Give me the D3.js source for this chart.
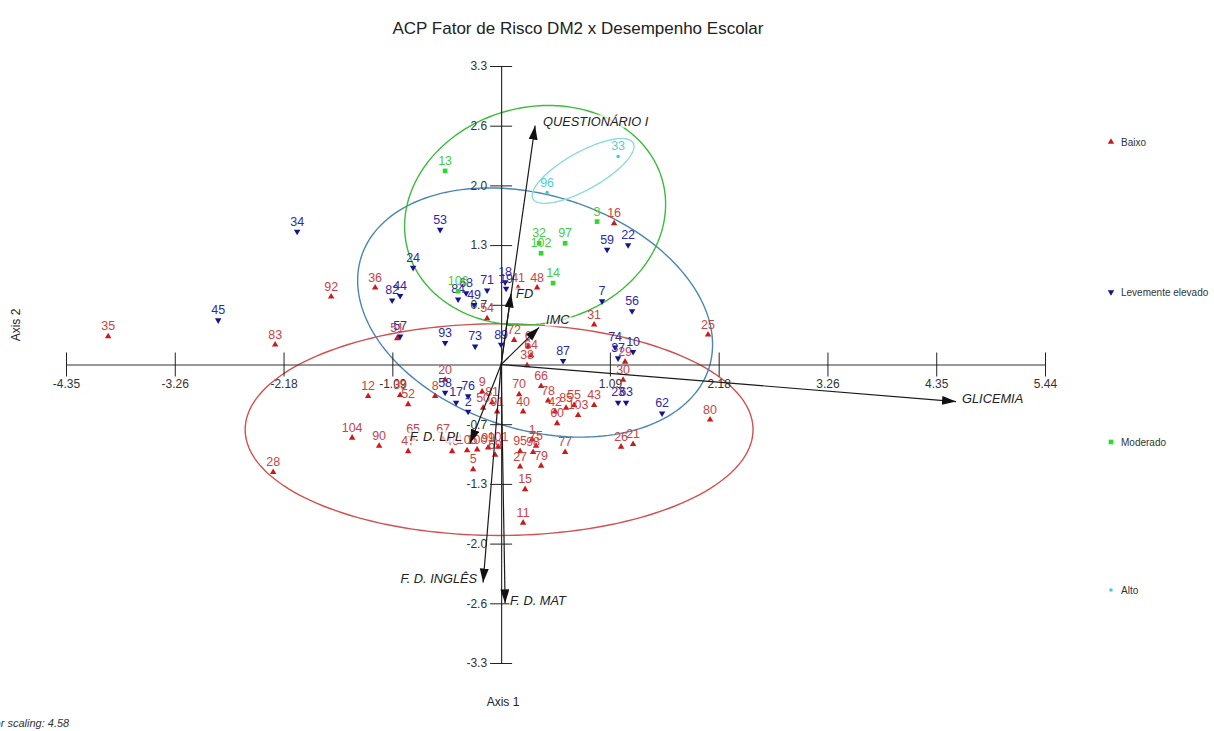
<!DOCTYPE html>
<html>
<head>
<meta charset="utf-8">
<script src="https://cdn.jsdelivr.net/npm/d3@7"></script>
<style>
  html, body { margin: 0; padding: 0; background: #fff; }
  svg { display: block; font-family: "Liberation Sans", Arial, sans-serif; }
</style>
</head>
<body>
<svg id="chart" width="1214" height="731"></svg>
<script>
// ---- scores on the first two principal components: [id, Axis 1, Axis 2] ----
const baixo = [
  [35,-3.93,0.31],[83,-2.26,0.22],[92,-1.70,0.75],[36,-1.26,0.85],[48,0.36,0.85],[41,0.17,0.85],
  [54,-0.14,0.51],[16,1.13,1.56],[31,0.93,0.44],[25,2.07,0.33],[72,0.13,0.27],[6,0.27,0.20],
  [64,0.30,0.10],[38,0.26,-0.01],[29,1.24,0.03],[30,1.22,-0.17],[43,0.93,-0.45],[85,0.65,-0.48],
  [55,0.73,-0.45],[103,0.77,-0.56],[66,0.40,-0.24],[78,0.47,-0.40],[42,0.54,-0.52],[60,0.56,-0.65],
  [70,0.18,-0.33],[40,0.22,-0.52],[1,0.31,-0.83],[75,0.35,-0.90],[95,0.19,-0.96],[98,0.32,-0.97],
  [27,0.19,-1.13],[79,0.40,-1.12],[15,0.24,-1.38],[11,0.22,-1.75],[5,-0.28,-1.16],[80,2.09,-0.61],
  [26,1.20,-0.91],[21,1.32,-0.88],[77,0.64,-0.97],[20,-0.56,-0.17],[12,-1.33,-0.35],[39,-1.01,-0.34],
  [52,-0.93,-0.44],[8,-0.66,-0.35],[9,-0.19,-0.30],[50,-0.18,-0.48],[81,-0.09,-0.42],[91,-0.04,-0.52],
  [51,-1.04,0.29],[104,-1.49,-0.81],[90,-1.22,-0.90],[28,-2.28,-1.19],[47,-0.93,-0.96],[65,-0.88,-0.82],
  [67,-0.58,-0.82],[46,-0.49,-0.96],[105,-0.34,-0.95],[100,-0.24,-0.94],[99,-0.13,-0.92],[69,-0.06,-1.00],
  [101,-0.03,-0.91]
];
const levementeElevado = [
  [34,-2.04,1.47],[45,-2.83,0.49],[53,-0.61,1.49],[24,-0.88,1.07],[44,-1.01,0.76],[82,-1.09,0.71],
  [68,-0.35,0.79],[84,-0.43,0.72],[49,-0.27,0.66],[71,-0.14,0.82],[18,0.04,0.91],[19,0.05,0.84],
  [59,1.06,1.27],[22,1.27,1.32],[7,1.01,0.70],[56,1.31,0.59],[87,0.62,0.04],[74,1.14,0.19],
  [10,1.32,0.14],[37,1.17,0.07],[23,1.17,-0.42],[63,1.25,-0.42],[62,1.61,-0.54],[93,-0.56,0.24],
  [73,-0.26,0.20],[89,0.00,0.22],[57,-1.01,0.31],[58,-0.56,-0.31],[17,-0.45,-0.42],[76,-0.33,-0.35],
  [2,-0.33,-0.52]
];
const moderado = [
  [13,-0.56,2.14],[106,-0.43,0.81],[32,0.38,1.34],[102,0.40,1.23],[97,0.64,1.34],[3,0.96,1.58],[14,0.52,0.90]
];
const alto = [
  [96,0.46,1.90],[33,1.17,2.30]
];

// group names, in legend order
const groupNames = ["Baixo", "Levemente elevado", "Moderado", "Alto"];

// 95% ellipses per group: centre and two conjugate semi-axes (Axis 1, Axis 2 units)
const ellipseCentre = [[-0.02,-0.72],[0.34,0.575],[0.34,1.65],[0.82,2.14]];
const ellipseAxisU  = [[2.54,0],[1.739,-0.614],[1.275,0.378],[0.50,0.31]];
const ellipseAxisV  = [[0,1.17],[-0.356,-1.233],[0.28,-1.153],[0.094,-0.180]];

// variable loadings (already multiplied by the vector scaling)
const vectorNames = ["QUESTIONÁRIO I","FD","IMC","GLICEMIA","F. D. LPL","F. D. INGLÊS","F. D. MAT"];
const vectorAxis1 = [0.34, 0.10, 0.38, 4.55, -0.31, -0.18, 0.04];
const vectorAxis2 = [2.64, 0.785, 0.41, -0.41, -0.87, -2.41, -2.64];
const vectorScaling = 4.58;

// tick positions and their printed labels
const xTickValues = [-4.352,-3.264,-2.176,-1.088,1.088,2.176,3.264,4.352,5.44];
const xTickLabels = ["-4.35","-3.26","-2.18","-1.09","1.09","2.18","3.26","4.35","5.44"];
const yTickValues = [-3.3,-2.64,-1.98,-1.32,-0.66,0.66,1.32,1.98,2.64,3.3];
const yTickLabels = ["-3.3","-2.6","-2.0","-1.3","-0.7","0.7","1.3","2.0","2.6","3.3"];

// ---- presentation ----
const groupStyle = [
  { mark: "#cc1a1a", text: "#c94444", ellipse: "#d2504f", shape: "up" },
  { mark: "#14148c", text: "#2b2ba6", ellipse: "#4a86b4", shape: "down" },
  { mark: "#2fd82f", text: "#46cc46", ellipse: "#3cbb3c", shape: "square" },
  { mark: "#3ccfd0", text: "#4fd0d0", ellipse: "#8fdada", shape: "dot" }
];
const vectorLabelPlace = {
  "QUESTIONÁRIO I": { anchor: "start", dx: 8, dy: 0 },
  "FD":             { anchor: "start", dx: 5, dy: 5 },
  "IMC":            { anchor: "start", dx: 7, dy: -3 },
  "GLICEMIA":       { anchor: "start", dx: 6, dy: 1 },
  "F. D. LPL":      { anchor: "end",   dx: -8, dy: -2 },
  "F. D. INGLÊS":   { anchor: "end",   dx: -6, dy: 1 },
  "F. D. MAT":      { anchor: "start", dx: 5, dy: 2 }
};

const svg = d3.select("#chart");
const x = d3.scaleLinear().domain([-4.352, 5.44]).range([66, 1045]);
const y = d3.scaleLinear().domain([-3.3, 3.3]).range([663, 66]);

function symbolPath(shape) {
  if (shape === "square") return d3.symbol(d3.symbolSquare, 22)();
  if (shape === "dot") return d3.symbol(d3.symbolCircle, 10)();
  return d3.symbol(d3.symbolTriangle, 18)();
}
function symbolTransform(shape, px, py) {
  return `translate(${px},${py})` + (shape === "down" ? " rotate(180)" : "");
}

// title
svg.append("text").attr("x", 578).attr("y", 34).attr("text-anchor", "middle")
  .attr("font-size", 17).attr("fill", "#222").text("ACP Fator de Risco DM2 x Desempenho Escolar");

// group ellipses
const ellipseLine = d3.line().x(d => x(d[0])).y(d => y(d[1])).curve(d3.curveLinearClosed);
ellipseCentre.forEach((c, i) => {
  const pts = d3.range(0, 2 * Math.PI, Math.PI / 90).map(t => [
    c[0] + ellipseAxisU[i][0] * Math.cos(t) + ellipseAxisV[i][0] * Math.sin(t),
    c[1] + ellipseAxisU[i][1] * Math.cos(t) + ellipseAxisV[i][1] * Math.sin(t)
  ]);
  svg.append("path").attr("d", ellipseLine(pts)).attr("fill", "none")
    .attr("stroke", groupStyle[i].ellipse).attr("stroke-width", 1.4);
});

// axes through the origin, ticks crossing the line
const xAxis = svg.append("g").attr("transform", `translate(0,${y(0)})`)
  .call(d3.axisBottom(x).tickValues(xTickValues).tickFormat((d, i) => xTickLabels[i])
    .tickSize(12).tickSizeOuter(0).tickPadding(3));
xAxis.selectAll(".tick line").attr("y1", -12);
const yAxis = svg.append("g").attr("transform", `translate(${x(0)},0)`)
  .call(d3.axisLeft(y).tickValues(yTickValues).tickFormat((d, i) => yTickLabels[i])
    .tickSize(11).tickSizeOuter(0).tickPadding(3));
yAxis.selectAll(".tick line").attr("x1", 11);
[xAxis, yAxis].forEach(a => {
  a.select(".domain").attr("stroke", "#333").attr("stroke-width", 1.2);
  a.selectAll(".tick line").attr("stroke", "#222");
  a.selectAll(".tick text").attr("font-size", 12).attr("fill", "#333")
    .attr("font-family", "Liberation Sans, Arial, sans-serif");
});

// axis titles
svg.append("text").attr("x", 503).attr("y", 706).attr("text-anchor", "middle")
  .attr("font-size", 12).attr("fill", "#222").text("Axis 1");
svg.append("text").attr("transform", "translate(20,325) rotate(-90)").attr("text-anchor", "middle")
  .attr("font-size", 12).attr("fill", "#222").text("Axis 2");

// scores
const groups = [baixo, levementeElevado, moderado, alto];
groups.forEach((rows, gi) => {
  const st = groupStyle[gi];
  const g = svg.append("g");
  g.selectAll("path").data(rows).join("path")
    .attr("d", symbolPath(st.shape))
    .attr("transform", d => symbolTransform(st.shape, x(d[1]), y(d[2])))
    .attr("fill", st.mark);
  g.selectAll("text").data(rows).join("text")
    .attr("x", d => x(d[1])).attr("y", d => y(d[2]) - 6)
    .attr("text-anchor", "middle").attr("font-size", 12.5).attr("fill", st.text)
    .text(d => d[0]);
});

// loading vectors
svg.append("defs").append("marker").attr("id", "head")
  .attr("markerUnits", "userSpaceOnUse").attr("markerWidth", 15).attr("markerHeight", 10)
  .attr("refX", 14).attr("refY", 4.5).attr("orient", "auto")
  .append("path").attr("d", "M0,0L14,4.5L0,9Z").attr("fill", "#111");
const vg = svg.append("g");
vectorNames.forEach((name, i) => {
  const tx = x(vectorAxis1[i]), ty = y(vectorAxis2[i]);
  vg.append("line").attr("x1", x(0)).attr("y1", y(0)).attr("x2", tx).attr("y2", ty)
    .attr("stroke", "#1a1a1a").attr("stroke-width", 1.2).attr("marker-end", "url(#head)");
  const p = vectorLabelPlace[name];
  const t = vg.append("text").attr("x", tx + p.dx).attr("y", ty + p.dy)
    .attr("text-anchor", p.anchor).attr("font-size", 12.8).attr("font-style", "italic")
    .attr("fill", "#222").text(name);
  const b = t.node().getBBox();
  vg.insert("rect", () => t.node()).attr("x", b.x - 1).attr("y", b.y + 1)
    .attr("width", b.width + 2).attr("height", b.height - 2)
    .attr("fill", "#fff").attr("opacity", 0.7);
});

// legend
const legendY = [142, 292, 442, 590];
groupNames.forEach((name, i) => {
  const st = groupStyle[i];
  svg.append("path").attr("d", symbolPath(st.shape))
    .attr("transform", symbolTransform(st.shape, 1111, legendY[i]))
    .attr("fill", st.mark);
  svg.append("text").attr("x", 1121).attr("y", legendY[i] + 3.5)
    .attr("font-size", 10).attr("fill", "#333").text(name);
});

// scaling note
svg.append("text").attr("x", -27).attr("y", 727).attr("font-size", 11)
  .attr("font-style", "italic").attr("fill", "#333")
  .text("Vector scaling: " + vectorScaling.toFixed(2));
</script>
</body>
</html>
